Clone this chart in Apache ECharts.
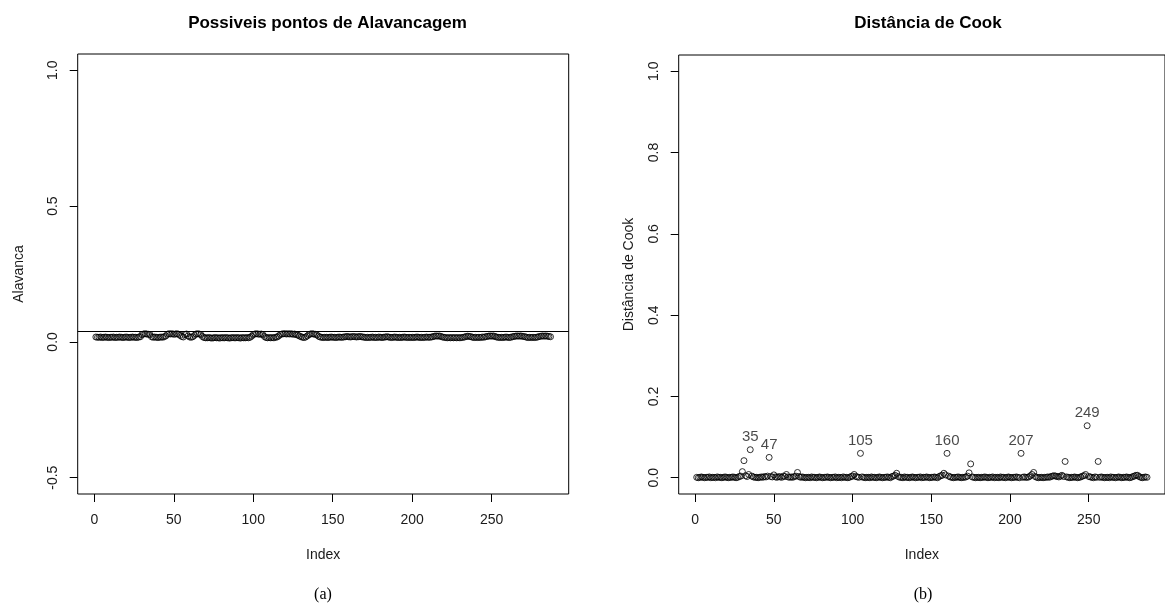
<!DOCTYPE html>
<html>
<head>
<meta charset="utf-8">
<script src="https://cdn.jsdelivr.net/npm/echarts@6/dist/echarts.min.js"></script>
<style>
html,body{margin:0;padding:0;background:#fff;}
#chart{width:1165px;height:606px;}
</style>
</head>
<body>
<div id="chart"></div>
<script>
// ---------- DATA ----------
const titleLeft = "Possiveis pontos de Alavancagem";
const titleRight = "Distância de Cook";
const xTicks = [0, 50, 100, 150, 200, 250];
const yTicksLeft = [-0.5, 0.0, 0.5, 1.0];
const yTicksRight = [0.0, 0.2, 0.4, 0.6, 0.8, 1.0];
const leverageCutoff = 0.036;

// leverage (hat values), index 1..287
const leverage = [
0.018,0.017,0.017,0.018,0.016,0.017,0.018,0.017,0.016,0.017,
0.017,0.018,0.016,0.017,0.017,0.018,0.017,0.016,0.017,0.018,
0.017,0.016,0.017,0.018,0.017,0.017,0.016,0.018,0.019,0.027,
0.029,0.030,0.029,0.028,0.027,0.019,0.017,0.018,0.017,0.016,
0.017,0.018,0.017,0.019,0.022,0.028,0.030,0.029,0.030,0.028,
0.029,0.030,0.028,0.024,0.020,0.018,0.027,0.029,0.022,0.018,
0.017,0.019,0.024,0.029,0.030,0.029,0.027,0.020,0.016,0.015,
0.015,0.016,0.015,0.014,0.015,0.016,0.015,0.015,0.014,0.016,
0.015,0.015,0.016,0.015,0.014,0.015,0.016,0.015,0.015,0.016,
0.015,0.014,0.016,0.015,0.015,0.016,0.015,0.017,0.021,0.027,
0.029,0.030,0.029,0.028,0.029,0.027,0.020,0.016,0.015,0.016,
0.015,0.016,0.015,0.017,0.018,0.022,0.027,0.029,0.030,0.030,
0.029,0.030,0.029,0.030,0.028,0.029,0.027,0.025,0.022,0.019,
0.017,0.016,0.018,0.022,0.027,0.029,0.030,0.029,0.028,0.026,
0.021,0.018,0.017,0.016,0.017,0.017,0.016,0.017,0.018,0.017,
0.017,0.016,0.017,0.018,0.017,0.017,0.018,0.019,0.020,0.019,
0.018,0.019,0.020,0.019,0.018,0.019,0.020,0.019,0.018,0.017,
0.016,0.017,0.016,0.017,0.018,0.016,0.017,0.016,0.018,0.017,
0.016,0.017,0.018,0.019,0.018,0.017,0.016,0.017,0.018,0.017,
0.016,0.017,0.016,0.017,0.018,0.017,0.016,0.017,0.016,0.017,
0.016,0.017,0.018,0.017,0.016,0.017,0.016,0.017,0.018,0.017,
0.017,0.018,0.019,0.021,0.022,0.021,0.022,0.020,0.018,0.017,
0.016,0.015,0.016,0.015,0.016,0.015,0.016,0.015,0.016,0.015,
0.016,0.017,0.018,0.020,0.021,0.020,0.019,0.017,0.016,0.017,
0.016,0.017,0.016,0.018,0.017,0.019,0.020,0.021,0.022,0.021,
0.022,0.020,0.018,0.017,0.016,0.017,0.016,0.017,0.018,0.017,
0.016,0.017,0.019,0.020,0.021,0.022,0.021,0.022,0.021,0.020,
0.019,0.017,0.016,0.017,0.016,0.017,0.016,0.017,0.018,0.020,
0.021,0.022,0.021,0.022,0.021,0.020,0.019
];

// Cook's distance, index 1..287
const cook = [
0.001,0.000,0.001,0.002,0.001,0.000,0.001,0.001,0.002,0.000,
0.001,0.001,0.000,0.002,0.001,0.001,0.000,0.001,0.002,0.001,
0.000,0.001,0.001,0.002,0.001,0.000,0.001,0.003,0.004,0.015,
0.042,0.005,0.003,0.008,0.069,0.004,0.002,0.001,0.001,0.000,
0.001,0.002,0.001,0.003,0.002,0.004,0.050,0.003,0.002,0.007,
0.002,0.001,0.003,0.002,0.001,0.004,0.003,0.008,0.002,0.001,
0.002,0.001,0.003,0.004,0.013,0.003,0.001,0.002,0.001,0.000,
0.001,0.001,0.000,0.002,0.001,0.001,0.000,0.001,0.002,0.001,
0.000,0.001,0.001,0.002,0.001,0.000,0.001,0.001,0.002,0.000,
0.001,0.001,0.000,0.002,0.001,0.001,0.000,0.001,0.003,0.004,
0.008,0.003,0.002,0.001,0.060,0.002,0.001,0.000,0.001,0.001,
0.000,0.002,0.001,0.001,0.000,0.001,0.002,0.001,0.000,0.001,
0.001,0.002,0.001,0.000,0.003,0.004,0.006,0.011,0.003,0.001,
0.001,0.000,0.002,0.001,0.001,0.000,0.001,0.002,0.001,0.000,
0.001,0.001,0.002,0.000,0.001,0.001,0.002,0.001,0.000,0.001,
0.001,0.002,0.001,0.000,0.003,0.005,0.006,0.011,0.007,0.060,
0.004,0.002,0.001,0.000,0.001,0.001,0.002,0.001,0.000,0.001,
0.001,0.002,0.004,0.012,0.034,0.002,0.001,0.000,0.001,0.001,
0.000,0.001,0.001,0.002,0.001,0.000,0.001,0.001,0.002,0.000,
0.001,0.001,0.000,0.002,0.001,0.001,0.000,0.001,0.002,0.001,
0.000,0.001,0.001,0.002,0.001,0.000,0.060,0.001,0.002,0.001,
0.001,0.002,0.005,0.008,0.013,0.003,0.001,0.000,0.001,0.001,
0.000,0.001,0.001,0.002,0.001,0.003,0.004,0.005,0.004,0.003,
0.002,0.004,0.006,0.003,0.040,0.002,0.001,0.000,0.001,0.001,
0.002,0.001,0.000,0.001,0.002,0.004,0.005,0.008,0.128,0.003,
0.002,0.001,0.000,0.002,0.001,0.040,0.001,0.002,0.001,0.000,
0.001,0.001,0.000,0.002,0.001,0.001,0.000,0.001,0.002,0.001,
0.000,0.001,0.001,0.002,0.001,0.000,0.001,0.003,0.004,0.006,
0.006,0.003,0.001,0.000,0.001,0.002,0.001
];

// indices labelled in the Cook plot
const labelledIdx = [35, 47, 105, 160, 207, 249];

// ---------- BUILD ----------
const levData = leverage.map((v, i) => [i + 1, v]);
const cookData = cook.map((v, i) => [i + 1, v]);
const labData = labelledIdx.map(k => [k, cook[k - 1]]);

const n = leverage.length;
const xPad = (n - 1) * 0.04;
const xMin = 1 - xPad, xMax = n + xPad;

const FONT = '"Liberation Sans", Arial, sans-serif';
const txt = '#1a1a1a';

function xAxisCfg(gi) {
  return {
    gridIndex: gi, type: 'value', min: xMin, max: xMax,
    name: 'Index', nameLocation: 'middle', nameGap: 54,
    nameTextStyle: { fontFamily: FONT, fontSize: 14, color: txt },
    axisLine: { show: false, onZero: false },
    axisTick: { show: true, inside: false, length: 8, customValues: xTicks, lineStyle: { color: '#000', width: 1 } },
    axisLabel: { customValues: xTicks, margin: 19, fontFamily: FONT, fontSize: 14, color: txt },
    splitLine: { show: false }
  };
}
function yAxisCfg(gi, min, max, ticks, name, gap) {
  return {
    gridIndex: gi, type: 'value', min: min, max: max,
    name: name, nameLocation: 'middle', nameGap: gap, nameRotate: 90,
    nameTextStyle: { fontFamily: FONT, fontSize: 14, color: txt },
    axisLine: { show: false, onZero: false },
    axisTick: { show: true, inside: false, length: 8, customValues: ticks, lineStyle: { color: '#000', width: 1 } },
    axisLabel: { customValues: ticks, rotate: 90, margin: 18, fontFamily: FONT, fontSize: 14, color: txt,
      formatter: v => v.toFixed(1) },
    splitLine: { show: false }
  };
}

const pointStyle = { color: 'rgba(0,0,0,0)', borderColor: '#000', borderWidth: 1 };

const option = {
  animation: false,
  backgroundColor: '#fff',
  title: [
    { text: titleLeft, left: 322.5, top: 10, textAlign: 'center',
      textStyle: { fontFamily: FONT, fontSize: 17, fontWeight: 'bold', color: '#000' } },
    { text: titleRight, left: 923, top: 10, textAlign: 'center',
      textStyle: { fontFamily: FONT, fontSize: 17, fontWeight: 'bold', color: '#000' } }
  ],
  grid: [
    { left: 77.7, top: 54, width: 491, height: 440, show: true, borderColor: '#000', borderWidth: 1, backgroundColor: 'transparent' },
    { left: 678.7, top: 55, width: 490.5, height: 439, show: true, borderColor: '#000', borderWidth: 1, backgroundColor: 'transparent' }
  ],
  xAxis: [xAxisCfg(0), xAxisCfg(1)],
  yAxis: [
    yAxisCfg(0, -0.56, 1.06, yTicksLeft, 'Alavanca', 52),
    yAxisCfg(1, -0.04, 1.04, yTicksRight, 'Distância de Cook', 43)
  ],
  graphic: [
    { type: 'text', x: 323, y: 595, style: { text: '(a)', fontFamily: '"Liberation Serif", "Times New Roman", serif', fontSize: 16, fill: '#000', align: 'center', verticalAlign: 'middle' } },
    { type: 'text', x: 923, y: 595, style: { text: '(b)', fontFamily: '"Liberation Serif", "Times New Roman", serif', fontSize: 16, fill: '#000', align: 'center', verticalAlign: 'middle' } }
  ],
  series: [
    { type: 'scatter', xAxisIndex: 0, yAxisIndex: 0, data: levData, symbol: 'circle', symbolSize: 6,
      itemStyle: pointStyle, emphasis: { disabled: true }, silent: true,
      markLine: { silent: true, symbol: ['none', 'none'], label: { show: false },
        lineStyle: { color: '#000', width: 1, type: 'solid' }, data: [{ yAxis: leverageCutoff }] } },
    { type: 'scatter', xAxisIndex: 1, yAxisIndex: 1, data: cookData, symbol: 'circle', symbolSize: 6,
      itemStyle: pointStyle, emphasis: { disabled: true }, silent: true },
    { type: 'scatter', xAxisIndex: 1, yAxisIndex: 1, data: labData, symbolSize: 0,
      itemStyle: { color: 'rgba(0,0,0,0)' }, silent: true,
      label: { show: true, position: 'top', distance: 5, fontFamily: FONT, fontSize: 15, color: txt,
        formatter: p => String(p.value[0]) } }
  ]
};

const chart = echarts.init(document.getElementById('chart'), null, { renderer: 'canvas' });
chart.setOption(option);
</script>
</body>
</html>
